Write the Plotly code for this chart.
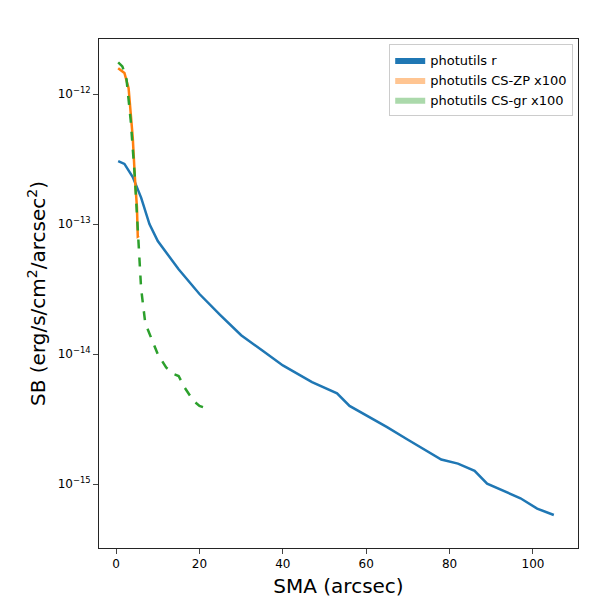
"""
Surface brightness profiles: photutils r band and colour-corrected profiles.
"""
import numpy as np
import plotly.graph_objects as go

# --- Profile values ---
sma_r = [0.5, 2, 4, 6, 8, 10, 15, 20, 25, 30, 35, 40, 47, 53, 56, 60, 65, 70, 75, 78, 82, 86, 89, 93, 97, 101, 105]
sb_r = [3.05e-13, 2.9e-13, 2.3e-13, 1.6e-13, 1.0e-13, 7.4e-14, 4.5e-14, 2.9e-14, 2.0e-14, 1.4e-14,
        1.07e-14, 8.2e-15, 6.1e-15, 5.0e-15, 4.0e-15, 3.4e-15, 2.75e-15, 2.2e-15, 1.78e-15, 1.55e-15,
        1.44e-15, 1.27e-15, 1.01e-15, 8.9e-16, 7.8e-16, 6.5e-16, 5.8e-16]
sma_zp = [0.5, 2, 3, 4, 4.5, 5, 5.2, 5.5]
sb_zp = [1.58e-12, 1.45e-12, 1.11e-12, 4.6e-13, 2.3e-13, 1.35e-13, 8.0e-14, 8.1e-14]
sma_gr = [0.5, 1.5, 2.5, 3.5, 4.5, 5.5, 6, 7, 8, 10, 12, 14, 15, 16.5, 18.5, 20, 22]
sb_gr = [1.75e-12, 1.63e-12, 1.3e-12, 6.3e-13, 2.3e-13, 6.6e-14, 3.2e-14, 1.73e-14, 1.45e-14,
         1.0e-14, 7.9e-15, 7.0e-15, 6.8e-15, 5.5e-15, 4.4e-15, 4.0e-15, 3.8e-15]
y_ticks = [1e-15, 1e-14, 1e-13, 1e-12]
y_ticktext = ['10<sup>−15</sup>', '10<sup>−14</sup>', '10<sup>−13</sup>', '10<sup>−12</sup>']

fig = go.Figure()
fig.add_trace(go.Scatter(x=sma_r, y=sb_r, mode='lines', line=dict(color='#1f77b4', width=2.5),
                         showlegend=False))
fig.add_trace(go.Scatter(x=sma_zp, y=sb_zp, mode='lines', line=dict(color='#ff7f0e', width=2.5),
                         showlegend=False))
fig.add_trace(go.Scatter(x=sma_gr, y=sb_gr, mode='lines', line=dict(color='#2ca02c', width=2.5, dash='dash'),
                         showlegend=False))

# legend patches (like matplotlib fill_between handles)
for label, color in [
    ('photutils r', 'rgba(31,119,180,1)'),
    ('photutils CS-ZP x100', 'rgba(255,127,14,0.45)'),
    ('photutils CS-gr x100', 'rgba(44,160,44,0.4)'),
]:
    fig.add_trace(go.Scatter(x=[None], y=[None], mode='lines', fill='toself', fillcolor=color,
                             line=dict(color=color, width=0), name=label))

fig.update_layout(
    width=600,
    height=600,
    template="simple_white",
    margin=dict(l=91, r=30, t=31, b=60, autoexpand=False),
    font=dict(family="DejaVu Sans", size=12, color='black'),
    legend=dict(x=0.99, y=0.99, xanchor='right', yanchor='top', bordercolor='#cccccc', borderwidth=1,
                font=dict(size=13)),
)
fig.update_xaxes(title=dict(text="SMA (arcsec)", font=dict(size=20), standoff=8), range=[-4.1, 110.8],
                 tickvals=[0, 20, 40, 60, 80, 100], mirror=True, ticks='outside', showline=True,
                 automargin=False)
fig.update_yaxes(type='log', title=dict(text="SB (erg/s/cm<sup>2</sup>/arcsec<sup>2</sup>)", font=dict(size=20),
                                        standoff=6),
                 range=[-15.49, -11.577], tickvals=y_ticks, ticktext=y_ticktext,
                 mirror=True, ticks='outside', showline=True, automargin=False)

fig.write_html("out.html")
